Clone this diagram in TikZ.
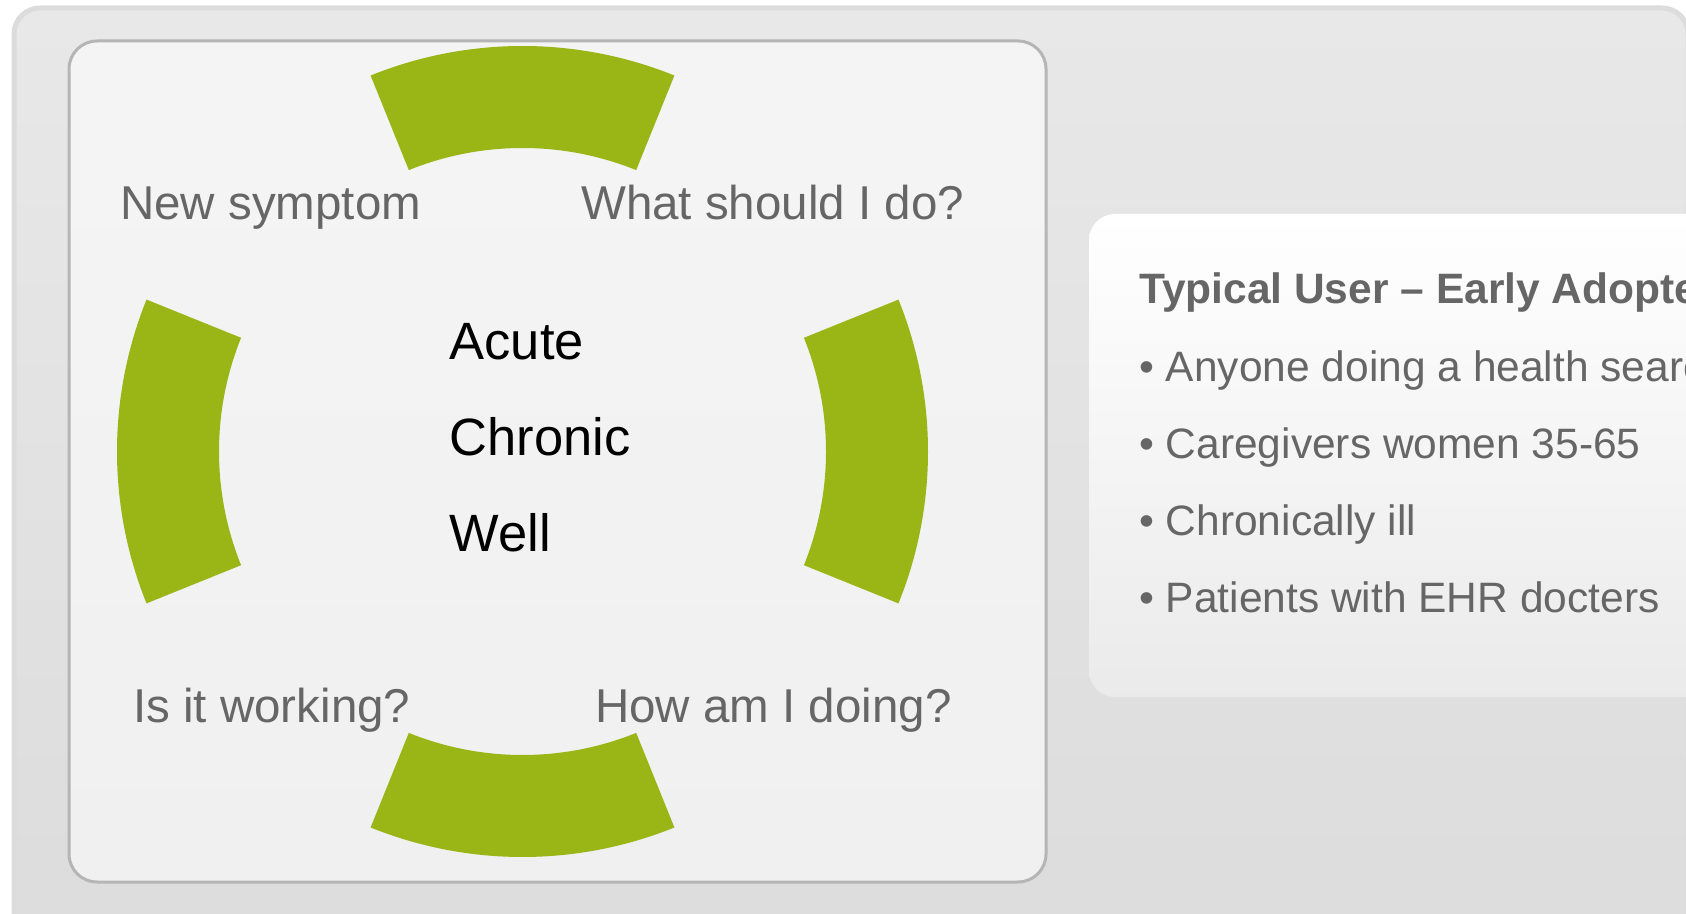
\documentclass[tikz,border=0pt]{standalone}
\usepackage{fontspec}
\setmainfont{Liberation Sans}
\definecolor{leaf}{HTML}{9AB516}
\definecolor{labelgray}{HTML}{666666}
\definecolor{panelline}{HTML}{B5B5B5}
\definecolor{outerfill}{HTML}{E8E8E8}
\definecolor{outerline}{HTML}{DCDCDC}
\definecolor{innerfill}{HTML}{F0F0F0}
\tikzset{
  seg/.style={fill=leaf},
  lbl/.style={anchor=base west, inner sep=0pt, text=labelgray, font=\fontsize{47.5}{57}\selectfont},
  ctr/.style={anchor=base west, inner sep=0pt, text=black, font=\fontsize{52.5}{63}\selectfont},
  bul/.style={anchor=base west, inner sep=0pt, text=labelgray, font=\fontsize{42.5}{51}\selectfont},
  ttl/.style={anchor=base west, inner sep=0pt, text=labelgray, font=\bfseries\fontsize{42.5}{51}\selectfont},
}
\begin{document}
\begin{tikzpicture}[x=1pt,y=1pt]
\useasboundingbox (0,0) rectangle (1686,913);
\fill[white] (0,0) rectangle (1686,913);
% outer container
\shade[top color=outerfill, bottom color=outerline, draw=outerline, line width=5pt, rounded corners=26pt]
  (14,-40) rectangle (1688,905);
% left panel
\shade[top color=innerfill!70!white, bottom color=innerfill, draw=panelline, line width=3pt, rounded corners=28pt]
  (69,31) rectangle (1046,872);
% right panel
\shade[top color=white, bottom color=outerfill!90!white, rounded corners=26pt]
  (1089,216) rectangle (1740,699);
% ring segments
\coordinate (c) at (522.5,461.5);
\foreach \k in {0,90,180,270}{
  \fill[seg, shift={(c)}] (\k-22:405.5) arc[start angle=\k-22, end angle=\k+22, radius=405.5]
    -- (\k+22:303.5) arc[start angle=\k+22, end angle=\k-22, radius=303.5] -- cycle;
}
% labels
\node[lbl] (ns) at (120,693) {New symptom};
\node[lbl] (wd) at (581,693) {What should I do?};
\node[lbl] (iw) at (133,190) {Is it working?};
\node[lbl] (hd) at (595,190) {How am I doing?};
\node[ctr] (ac) at (449.5,553) {Acute};
\node[ctr] (ch) at (449.5,457) {Chronic};
\node[ctr] (we) at (449.5,361) {Well};
% right text
\node[ttl] (tu) at (1139,609) {Typical User – Early Adopters};
\node[bul] (b1) at (1139,531.5) {• Anyone doing a health search};
\node[bul] (b2) at (1139,454) {• Caregivers women 35-65};
\node[bul] (b3) at (1139,377.5) {• Chronically ill};
\node[bul] (b4) at (1139,300) {• Patients with EHR docters};
\end{tikzpicture}
\end{document}
